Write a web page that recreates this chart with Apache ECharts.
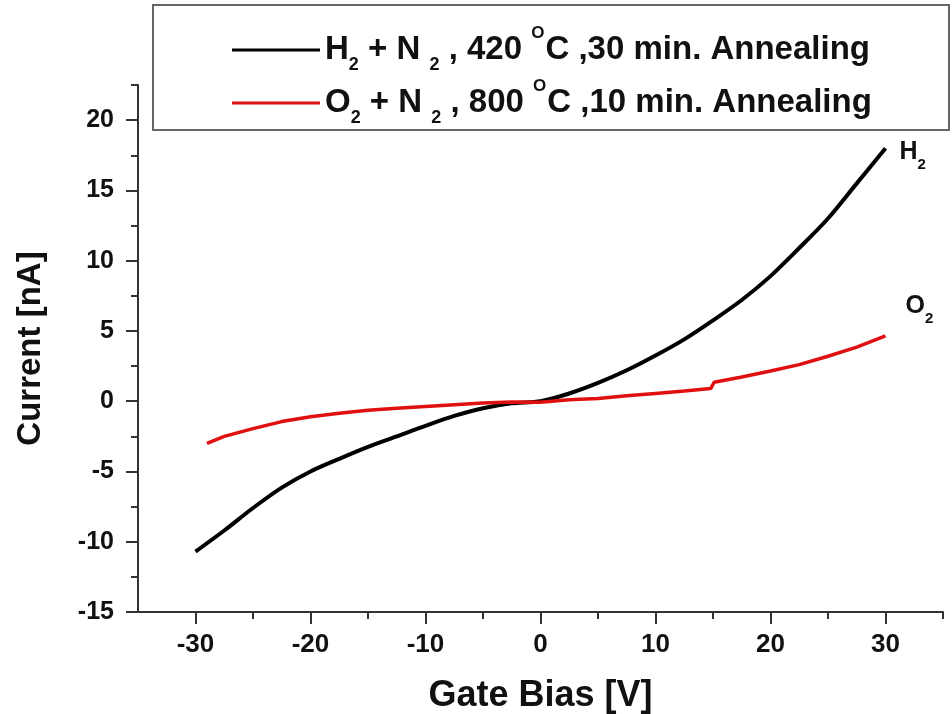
<!DOCTYPE html>
<html>
<head>
<meta charset="utf-8">
<script src="https://cdn.jsdelivr.net/npm/echarts@6/dist/echarts.min.js"></script>
<style>
  html, body { margin: 0; padding: 0; background: #fff; }
  #main { width: 952px; height: 714px; }
</style>
</head>
<body>
<div id="main"></div>
<script>
// gate bias (V) and current (nA)
var h2Bias = [-30, -27.5, -25, -22.5, -20, -17.5, -15, -12.5, -10, -7.5, -5, -2.5, 0,
  2.5, 5, 7.5, 10, 12.5, 15, 17.5, 20, 22.5, 25, 27.5, 30];
var h2Current = [-10.7, -9.2, -7.6, -6.15, -5.0, -4.1, -3.25, -2.5, -1.75, -1.05, -0.5, -0.15, 0,
  0.55, 1.3, 2.2, 3.25, 4.4, 5.75, 7.2, 8.9, 10.9, 13.0, 15.5, 18.0];

var o2Bias = [-29, -27.5, -25, -22.5, -20, -17.5, -15, -12.5, -10, -7.5, -5, -2.5, 0,
  2.5, 5, 7.5, 10, 12.5, 14.8, 15.1, 17.5, 20, 22.5, 25, 27.5, 30];
var o2Current = [-3.0, -2.5, -1.95, -1.45, -1.1, -0.85, -0.65, -0.5, -0.37, -0.25, -0.13, -0.06, -0.08,
  0.1, 0.2, 0.38, 0.55, 0.72, 0.9, 1.35, 1.72, 2.15, 2.6, 3.2, 3.85, 4.65];

var seriesNames = ['H2 + N2, 420 C, 30 min', 'O2 + N2, 800 C, 10 min'];
var legendText = [
  'H{s|2} + N {s|2} , 420 {o|O}C ,30 min. Annealing',
  'O{s|2} + N {s|2} , 800 {o|O}C ,10 min. Annealing'
];
var endText = ['H{s|2}', 'O{s|2}'];

var xMajor = [-30, -20, -10, 0, 10, 20, 30];
var xMinor = [-25, -15, -5, 5, 15, 25, 35];
var yMajor = [-15, -10, -5, 0, 5, 10, 15, 20];
var yMinor = [-12.5, -7.5, -2.5, 2.5, 7.5, 12.5, 17.5, 22.5];

function pairs(xs, ys) {
  return xs.map(function (x, i) { return [x, ys[i]]; });
}

var chart = echarts.init(document.getElementById('main'));
var axisColor = '#333';
var sans = '"Liberation Sans", Arial, sans-serif';

var option = {
  animation: false,
  backgroundColor: '#fff',
  grid: { left: 138, right: 9, top: 85, bottom: 102, outerBoundsMode: 'none', containLabel: false },
  graphic: [{
    type: 'rect',
    z: -1,
    shape: { x: 153, y: 5, width: 796, height: 125 },
    style: { fill: '#fff', stroke: '#666', lineWidth: 2 }
  }],
  legend: {
    orient: 'vertical',
    left: 232,
    top: 25,
    padding: 0,
    itemGap: 4,
    itemWidth: 88,
    itemHeight: 3,
    icon: 'rect',
    data: seriesNames,
    formatter: function (name) {
      return legendText[seriesNames.indexOf(name)];
    },
    textStyle: {
      fontFamily: sans,
      fontSize: 33,
      fontWeight: 'bold',
      color: '#111',
      lineHeight: 36,
      rich: {
        s: { fontSize: 18, fontFamily: sans, fontWeight: 'bold', verticalAlign: 'bottom', lineHeight: 36, padding: [0, 0, -6, 0] },
        o: { fontSize: 17, fontFamily: sans, verticalAlign: 'top', lineHeight: 36, padding: [-7, 1, 0, 0] }
      }
    }
  },
  xAxis: [{
    type: 'value',
    min: -35,
    max: 35,
    interval: 5,
    name: 'Gate Bias [V]',
    nameLocation: 'middle',
    nameGap: 66,
    nameTextStyle: { fontFamily: sans, fontSize: 36, fontWeight: 'bold', color: '#111' },
    splitLine: { show: false },
    axisLine: { onZero: false, lineStyle: { color: axisColor, width: 2 } },
    axisTick: { customValues: xMajor, length: 12, lineStyle: { color: axisColor, width: 2 } },
    axisLabel: {
      customValues: xMajor,
      margin: 20,
      fontFamily: sans,
      fontSize: 26,
      fontWeight: 'bold',
      color: '#111'
    }
  }, {
    type: 'value',
    position: 'bottom',
    min: -35,
    max: 35,
    interval: 5,
    splitLine: { show: false },
    axisLine: { show: false, onZero: false },
    axisTick: { customValues: xMinor, length: 7, lineStyle: { color: axisColor, width: 2 } },
    axisLabel: { show: false }
  }],
  yAxis: [{
    type: 'value',
    min: -15,
    max: 22.5,
    interval: 5,
    name: 'Current [nA]',
    nameLocation: 'middle',
    nameGap: 91,
    nameTextStyle: { fontFamily: sans, fontSize: 33, fontWeight: 'bold', color: '#111' },
    splitLine: { show: false },
    axisLine: { onZero: false, lineStyle: { color: axisColor, width: 2 } },
    axisTick: { customValues: yMajor, length: 12, lineStyle: { color: axisColor, width: 2 } },
    axisLabel: {
      customValues: yMajor,
      margin: 24,
      fontFamily: sans,
      fontSize: 25,
      fontWeight: 'bold',
      color: '#111'
    }
  }, {
    type: 'value',
    position: 'left',
    min: -15,
    max: 22.5,
    interval: 5,
    splitLine: { show: false },
    axisLine: { show: false, onZero: false },
    axisTick: { customValues: yMinor, length: 7, lineStyle: { color: axisColor, width: 2 } },
    axisLabel: { show: false }
  }],
  series: [{
    name: seriesNames[0],
    type: 'line',
    data: pairs(h2Bias, h2Current),
    showSymbol: false,
    smooth: 0.3,
    lineStyle: { color: '#000', width: 4 },
    itemStyle: { color: '#000' },
    endLabel: {
      show: true,
      formatter: endText[0],
      offset: [6, 4],
      fontFamily: sans,
      fontSize: 25,
      fontWeight: 'bold',
      color: '#111',
      rich: { s: { fontSize: 15, fontFamily: sans, fontWeight: 'bold', verticalAlign: 'bottom', padding: [0, 0, -8, 0] } }
    }
  }, {
    name: seriesNames[1],
    type: 'line',
    data: pairs(o2Bias, o2Current),
    showSymbol: false,
    lineStyle: { color: '#e01010', width: 3.5 },
    itemStyle: { color: '#e01010' },
    endLabel: {
      show: true,
      formatter: endText[1],
      offset: [12, -30],
      fontFamily: sans,
      fontSize: 25,
      fontWeight: 'bold',
      color: '#111',
      rich: { s: { fontSize: 15, fontFamily: sans, fontWeight: 'bold', verticalAlign: 'bottom', padding: [0, 0, -8, 0] } }
    }
  }]
};

chart.setOption(option);
</script>
</body>
</html>
